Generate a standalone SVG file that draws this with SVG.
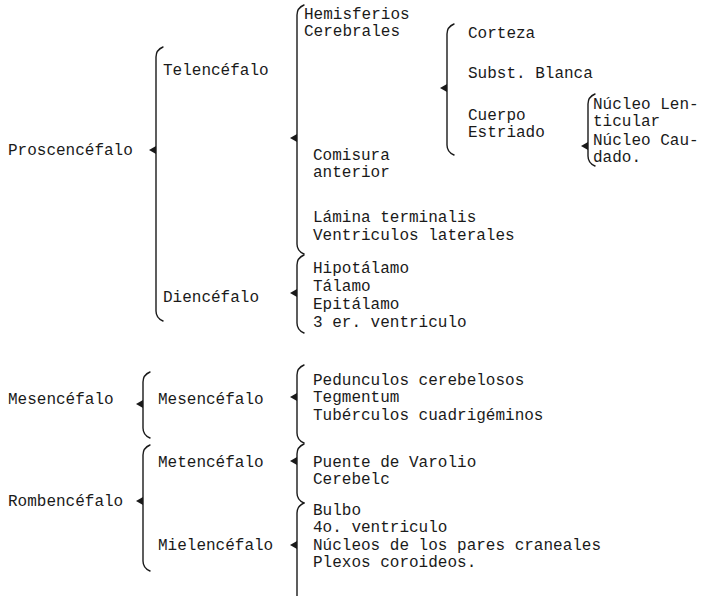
<svg xmlns="http://www.w3.org/2000/svg" width="717" height="596" viewBox="0 0 717 596">
<style>
text{font-family:"Courier New","Nimbus Mono PS","FreeMono","Liberation Mono",monospace;font-size:16px;fill:#1a1a1a}
.br{fill:none;stroke:#1a1a1a;stroke-width:1.4;stroke-linecap:round}
.ah{fill:#1a1a1a}
</style>
<rect width="717" height="596" fill="#ffffff"/>
<g id="connectors">
<path class="br" d="M163,47 Q156,50 156,57 L156,311 Q156,318 163,321"/><path class="ah" d="M156,146 L149,150 L156,154Z"/>
<path class="br" d="M304,5 Q297,8 297,15 L297,244 Q297,251 304,254"/><path class="ah" d="M297,134 L290,138 L297,142Z"/>
<path class="br" d="M454,24 Q447,27 447,34 L447,145 Q447,152 454,155"/><path class="ah" d="M447,84 L440,88 L447,92Z"/>
<path class="br" d="M595,94 Q588,97 588,104 L588,156 Q588,163 595,166"/><path class="ah" d="M588,142 L581,146 L588,150Z"/>
<path class="br" d="M304,255 Q297,258 297,265 L297,323 Q297,330 304,333"/><path class="ah" d="M297,289 L290,293 L297,297Z"/>
<path class="br" d="M150,372 Q143,375 143,382 L143,428 Q143,435 150,438"/><path class="ah" d="M143,400 L136,404 L143,408Z"/>
<path class="br" d="M304,365 Q297,368 297,375 L297,433 Q297,440 304,443"/><path class="ah" d="M297,393 L290,397 L297,401Z"/>
<path class="br" d="M150,445 Q143,448 143,455 L143,561 Q143,568 150,571"/><path class="ah" d="M143,497 L136,501 L143,505Z"/>
<path class="br" d="M304,444 Q297,447 297,454 L297,493 Q297,500 304,503"/><path class="ah" d="M297,457 L290,461 L297,465Z"/>
<path class="br" d="M304,503 Q297,506 297,513 L297,596"/><path class="ah" d="M297,541 L290,545 L297,549Z"/>
</g>
<g id="proscencefalo"><text x="8" y="155">Proscencéfalo</text></g>
<g id="telencefalo"><text x="163" y="75">Telencéfalo</text></g>
<g id="diencefalo"><text x="163" y="302">Diencéfalo</text></g>
<g id="hemisferios"><text x="304" y="19">Hemisferios</text><text x="304" y="36">Cerebrales</text></g>
<g id="corteza"><text x="468" y="38">Corteza</text></g>
<g id="subst-blanca"><text x="468" y="78">Subst. Blanca</text></g>
<g id="cuerpo-estriado"><text x="468" y="120">Cuerpo</text><text x="468" y="137">Estriado</text></g>
<g id="nucleo-lenticular"><text x="593" y="109">Núcleo Len-</text><text x="593" y="126">ticular</text></g>
<g id="nucleo-caudado"><text x="593" y="145">Núcleo Cau-</text><text x="593" y="162">dado.</text></g>
<g id="comisura"><text x="313" y="160">Comisura</text><text x="313" y="177">anterior</text></g>
<g id="lamina"><text x="313" y="222">Lámina terminalis</text></g>
<g id="ventriculos-lat"><text x="313" y="240">Ventriculos laterales</text></g>
<g id="hipotalamo"><text x="313" y="273">Hipotálamo</text></g>
<g id="talamo"><text x="313" y="291">Tálamo</text></g>
<g id="epitalamo"><text x="313" y="309">Epitálamo</text></g>
<g id="ventriculo3"><text x="313" y="327">3 er. ventriculo</text></g>
<g id="mesencefalo-1"><text x="8" y="404">Mesencéfalo</text></g>
<g id="mesencefalo-2"><text x="158" y="404">Mesencéfalo</text></g>
<g id="pedunculos"><text x="313" y="385">Pedunculos cerebelosos</text></g>
<g id="tegmentum"><text x="313" y="402">Tegmentum</text></g>
<g id="tuberculos"><text x="313" y="420">Tubérculos cuadrigéminos</text></g>
<g id="rombencefalo"><text x="8" y="506">Rombencéfalo</text></g>
<g id="metencefalo"><text x="158" y="467">Metencéfalo</text></g>
<g id="puente"><text x="313" y="467">Puente de Varolio</text></g>
<g id="cerebelo"><text x="313" y="484">Cerebelc</text></g>
<g id="mielencefalo"><text x="158" y="550">Mielencéfalo</text></g>
<g id="bulbo"><text x="313" y="515">Bulbo</text></g>
<g id="ventriculo4"><text x="313" y="532">4o. ventriculo</text></g>
<g id="nucleos-pares"><text x="313" y="550">Núcleos de los pares craneales</text></g>
<g id="plexos"><text x="313" y="567">Plexos coroideos.</text></g>
</svg>
